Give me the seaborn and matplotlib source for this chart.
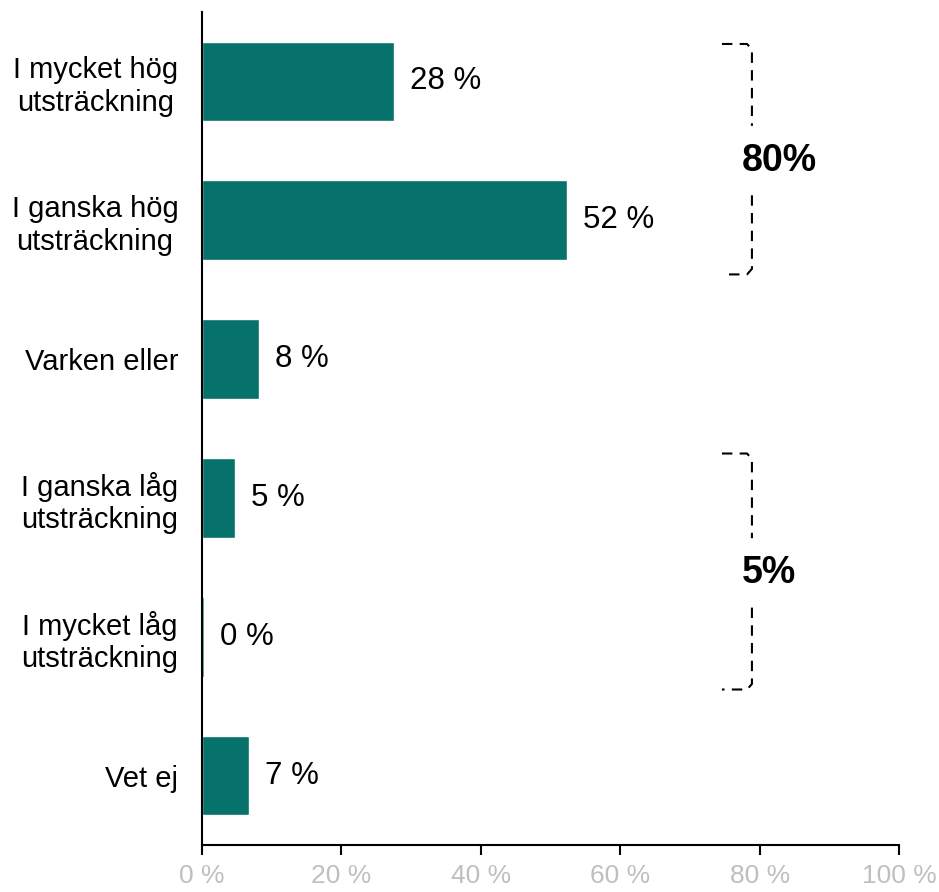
import matplotlib
matplotlib.use('Agg')
import matplotlib.pyplot as plt
import seaborn as sns
import pandas as pd

categories = ['I mycket hög\nutsträckning', 'I ganska hög\nutsträckning', 'Varken eller',
              'I ganska låg\nutsträckning', 'I mycket låg\nutsträckning', 'Vet ej']
values = [27.5, 52.4, 8.2, 4.7, 0.3, 6.7]
value_labels = ['28 %', '52 %', '8 %', '5 %', '0 %', '7 %']
group_labels = ['80%', '5%']
xticks = [0, 20, 40, 60, 80, 100]

sns.set_theme(style='white')
plt.rcParams['font.family'] = ['Liberation Sans', 'DejaVu Sans']

df = pd.DataFrame({'kategori': categories, 'andel': values})

fig = plt.figure(figsize=(9.39, 8.92), dpi=100)
ax = fig.add_axes([0.2151, 0.0527, 0.7423, 0.9338])

sns.barplot(data=df, x='andel', y='kategori', orient='h', color='#07716c',
            saturation=1, width=0.575, ax=ax)

ax.set_xlim(0, 100)
ax.set_ylim(5.5, -0.5)
ax.set_xticks(xticks)
ax.set_xticklabels([f'{t} %' for t in xticks], color='#bfbfbf', fontsize=19)
ax.tick_params(axis='x', length=7, width=1.5, color='black', pad=7, bottom=True)
ax.tick_params(axis='y', length=0, pad=17, labelsize=21, labelcolor='black')
for lab in ax.get_yticklabels():
    lab.set_multialignment('center')
ax.set_xlabel('')
ax.set_ylabel('')
sns.despine(ax=ax)
for s in ['left', 'bottom']:
    ax.spines[s].set_color('black')
    ax.spines[s].set_linewidth(1.5)

# värdeetiketter
for i, (v, t) in enumerate(zip(values, value_labels)):
    ax.text(v + 2.3, i, t, va='center', ha='left', fontsize=22.5, color='black')

# klammer
def bracket(y0, y1, ymid, label):
    kw = dict(color='black', lw=1.5, ls=(0, (5, 3.5)), clip_on=False)
    gap = 0.25
    ax.plot([74.6, 78.2, 78.9, 78.9], [y0, y0, y0 + 0.04, ymid - gap], **kw)
    ax.plot([78.9, 78.9, 78.2, 74.6], [ymid + gap, y1 - 0.04, y1, y1], **kw)
    ax.text(77.5, ymid, label, ha='left', va='center', fontsize=27,
            fontweight='bold', color='black')

bracket(-0.27, 1.39, 0.57, group_labels[0])
bracket(2.68, 4.38, 3.54, group_labels[1])

fig.savefig('out.png', dpi=100)
